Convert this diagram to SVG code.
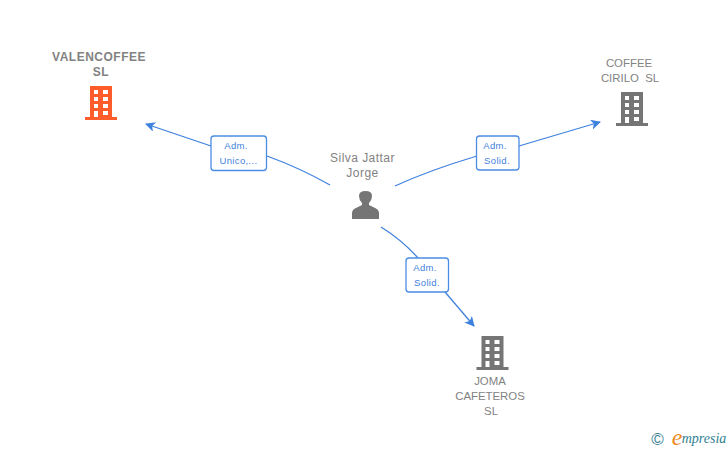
<svg xmlns="http://www.w3.org/2000/svg" width="728" height="450" viewBox="0 0 728 450">
<style>
.t{font-family:"Liberation Sans",Arial,sans-serif;font-size:11.4px;fill:#828282;text-anchor:middle;white-space:pre}
.s{font-size:12px;letter-spacing:.45px}
.b{font-weight:700;font-size:12px;letter-spacing:.5px}
.e{fill:none;stroke:#3f82de;stroke-width:1.3}
.l{fill:#fff;stroke:#4b8ce4;stroke-width:1.3}
.lt{font-family:"Liberation Sans",Arial,sans-serif;font-size:9.5px;letter-spacing:.35px;fill:#3f82de;text-anchor:middle}
</style>
<defs>
<marker id="a" markerWidth="12" markerHeight="12" refX="9" refY="5" orient="auto" markerUnits="userSpaceOnUse"><path d="M0 0L10 5L0 10L2.500 5Z" fill="#3f82de"/></marker>
<path id="bld" fill-rule="evenodd" d="M5 0H27V31H32V34H0V31H5ZM9 4V8H13V4ZM18 4V8H23V4ZM9 11V15H13V11ZM18 11V15H23V11ZM9 18V22H13V18ZM18 18V22H23V18ZM9 25V31H13V25ZM18 25V29H23V25Z"/>
</defs>
<g id="connectors">
<path class="e" d="M330 185Q300 168 267 156"/>
<path class="e" marker-end="url(#a)" d="M211 146L146 124"/>
<path class="e" d="M395 186Q430 170 477 156"/>
<path class="e" marker-end="url(#a)" d="M519 146Q560 134 600 122"/>
<path class="e" d="M381 227Q402 240 418 258"/>
<path class="e" d="M445 292L474 326" marker-end="url(#a)"/>
</g>
<g id="edge-label-1"><rect class="l" x="211" y="136" width="55.500" height="34.500" rx="3"/><text class="lt" x="236" y="149">Adm.</text><text class="lt" x="238.500" y="164">Unico,...</text></g>
<g id="edge-label-2"><rect class="l" x="476.500" y="136" width="42.500" height="34" rx="3"/><text class="lt" x="495" y="149">Adm.</text><text class="lt" x="497" y="164">Solid.</text></g>
<g id="edge-label-3"><rect class="l" x="406" y="258" width="42.500" height="34" rx="3"/><text class="lt" x="425" y="271">Adm.</text><text class="lt" x="427" y="286">Solid.</text></g>
<g id="node-valencoffee"><text class="t b" x="99" y="61">VALENCOFFEE</text><text class="t b" x="101" y="76">SL</text><use href="#bld" x="85" y="86" fill="#ff5c2b"/></g>
<g id="node-silva"><text class="t s" x="362.500" y="162">Silva Jattar</text><text class="t s" x="362.500" y="177">Jorge</text><path fill="#757575" d="M352 219V213Q352 209 358 207L362 205V203Q359 200 359 196Q359 191 365.500 191Q372 191 372 196Q372 200 369 203V205L373 207Q379 209 379 213V219Z"/></g>
<g id="node-coffee"><text class="t" x="629" y="67">COFFEE</text><text class="t" x="630" y="82">CIRILO  SL</text><use href="#bld" x="616" y="92" fill="#757575"/></g>
<g id="node-joma"><text class="t" x="490" y="385">JOMA</text><text class="t" x="490" y="400">CAFETEROS</text><text class="t" x="491" y="415">SL</text><use href="#bld" x="476.500" y="336" fill="#757575"/></g>
<g id="logo"><text x="657.500" y="445" font-family="Liberation Sans,sans-serif" font-size="17" fill="#3d7f96" text-anchor="middle">©</text><text x="677" y="445" font-family="Liberation Serif,serif" font-style="italic" font-size="24" fill="#f08a1d" text-anchor="middle">e</text><text x="704" y="443" font-family="Liberation Serif,serif" font-style="italic" font-size="14" fill="#2f7f92" text-anchor="middle">mpresia</text></g>
</svg>
